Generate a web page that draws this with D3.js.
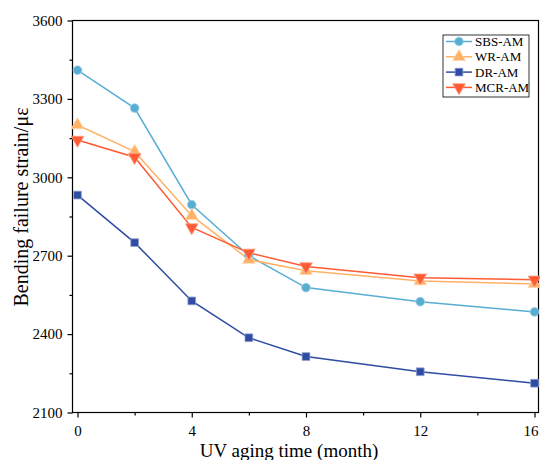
<!DOCTYPE html>
<html><head><meta charset="utf-8">
<script src="https://cdn.jsdelivr.net/npm/d3@7"></script>
<style>body{margin:0;background:#fff}svg{display:block}text{font-family:"Liberation Serif","Times New Roman",serif;fill:#000}</style>
</head><body><svg id="c" width="540" height="460"></svg>
<script>
const months = [0, 2, 4, 6, 8, 12, 16];
const sbsAM = [3410, 3265, 2895, 2700, 2578, 2524, 2485];
const wrAM  = [3200, 3098, 2853, 2685, 2642, 2603, 2592];
const drAM  = [2932, 2750, 2527, 2386, 2314, 2256, 2212];
const mcrAM = [3143, 3077, 2808, 2711, 2659, 2616, 2608];
const seriesNames = ["SBS-AM", "WR-AM", "DR-AM", "MCR-AM"];
const xTicks = [0, 4, 8, 12, 16];
const yTicks = [2100, 2400, 2700, 3000, 3300, 3600];

const series = [
  {name: seriesNames[0], values: sbsAM, color: "#58add3", edge: "#9fd0e6", sym: d3.symbolCircle, size: 60},
  {name: seriesNames[1], values: wrAM, color: "#ffb266", edge: "#ffd7ae", sym: d3.symbolTriangle, size: 70},
  {name: seriesNames[2], values: drAM, color: "#2f4ca3", edge: "#8f9fd0", sym: d3.symbolSquare, size: 60},
  {name: seriesNames[3], values: mcrAM, color: "#ff5a33", edge: "#ffa08a", sym: d3.symbolTriangle, size: 70, flip: true}
];

const svg = d3.select("#c");
const L = 72.5, R = 538.5, T = 20.5, B = 412.5;
const x = d3.scaleLinear().domain([-0.175, 16.14]).range([L, R]);
const y = d3.scaleLinear().domain([2100, 3600]).range([B, T]);

// frame
svg.append("rect").attr("x", L).attr("y", T).attr("width", R - L).attr("height", B - T)
  .attr("fill", "none").attr("stroke", "#000").attr("stroke-width", 1.2);

// x axis
const xAxis = svg.append("g").attr("transform", `translate(0,${B})`)
  .call(d3.axisBottom(x).tickValues(xTicks).tickSize(5).tickPadding(8).tickFormat(d3.format("d")));
xAxis.append("g").call(d3.axisBottom(x).tickValues([2, 6, 10, 14]).tickSize(3).tickFormat(""));
xAxis.selectAll(".tick text").filter(d => d === 16).attr("dx", -4);
// y axis
const yAxis = svg.append("g").attr("transform", `translate(${L},0)`)
  .call(d3.axisLeft(y).tickValues(yTicks).tickSize(5).tickPadding(5).tickFormat(d3.format("d")));
yAxis.append("g").call(d3.axisLeft(y).tickValues([2250, 2550, 2850, 3150, 3450]).tickSize(3).tickFormat(""));
svg.selectAll(".domain").remove();
svg.selectAll(".tick line").attr("stroke", "#000").attr("stroke-width", 1.2);
svg.selectAll(".tick text").style("font-family", '"Liberation Serif",serif').style("font-size", "15px").attr("fill", "#000");

// lines and markers
const line = d3.line().x((d, i) => x(months[i])).y(d => y(d));
series.forEach(s => {
  svg.append("path").datum(s.values).attr("d", line)
    .attr("fill", "none").attr("stroke", s.color).attr("stroke-width", 1.5);
});
series.forEach(s => {
  svg.selectAll(null).data(s.values).enter().append("path")
    .attr("d", d3.symbol().type(s.sym).size(s.size))
    .attr("transform", (d, i) => `translate(${x(months[i])},${y(d)})` + (s.flip ? " rotate(180)" : ""))
    .attr("fill", s.color).attr("stroke", s.edge).attr("stroke-width", 0.8);
});

// legend
const lg = svg.append("g");
lg.append("rect").attr("x", 443).attr("y", 35).attr("width", 86).attr("height", 62)
  .attr("fill", "#fff").attr("stroke", "#000").attr("stroke-width", 0.8);
series.forEach((s, i) => {
  const yy = 41.5 + i * 15.3;
  lg.append("line").attr("x1", 446).attr("x2", 472).attr("y1", yy).attr("y2", yy)
    .attr("stroke", s.color).attr("stroke-width", 1.5);
  lg.append("path").attr("d", d3.symbol().type(s.sym).size(s.size))
    .attr("transform", `translate(459,${yy})` + (s.flip ? " rotate(180)" : ""))
    .attr("fill", s.color).attr("stroke", s.edge).attr("stroke-width", 0.8);
  lg.append("text").attr("x", 475).attr("y", yy + 4.5).attr("font-size", 13).text(s.name);
});

// titles
svg.append("text").attr("x", 289).attr("y", 457).attr("text-anchor", "middle")
  .attr("font-size", 19).text("UV aging time (month)");
svg.append("text").attr("transform", "translate(28,207) rotate(-90)").attr("text-anchor", "middle")
  .attr("font-size", 20).text("Bending failure strain/με");
</script></body></html>
